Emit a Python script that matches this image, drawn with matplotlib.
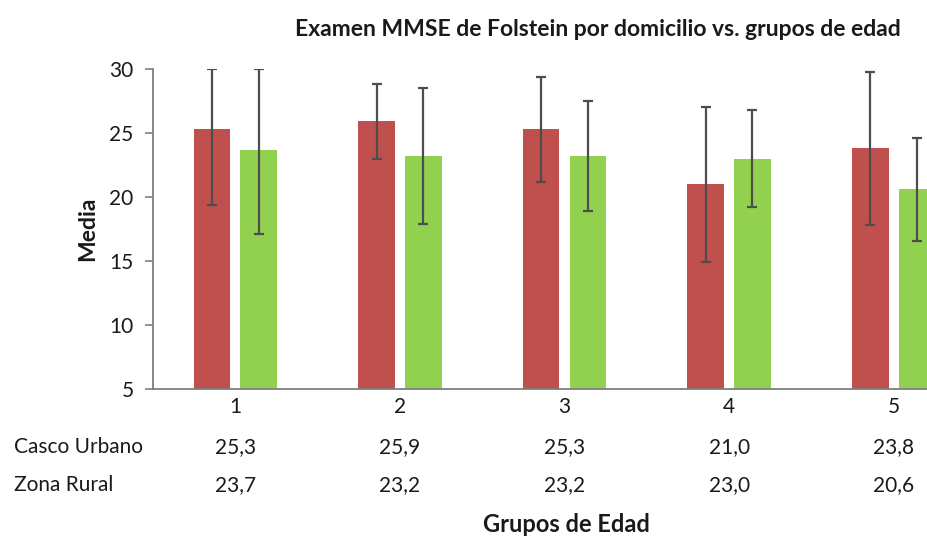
import numpy as np
import matplotlib
matplotlib.use("Agg")
import matplotlib.pyplot as plt
import matplotlib.transforms as mtransforms

plt.rcParams['font.family'] = ['Lato', 'DejaVu Sans']

# data
grupos = ["1", "2", "3", "4", "5"]
urbano = [25.3, 25.9, 25.3, 21.0, 23.8]
rural = [23.7, 23.2, 23.2, 23.0, 20.6]
# half-width of the error bars (sd)
urbano_err = [5.9, 2.9, 4.1, 6.05, 6.0]
rural_err = [6.6, 5.3, 4.3, 3.8, 4.0]
series = ["Casco Urbano", "Zona Rural"]

ymin, ymax = 5, 30
red = "#C0504D"
green = "#92D050"
errcol = "#4d4d4d"
txtcol = "#1a1a1a"

fig = plt.figure(figsize=(9.28, 5.37), dpi=100)
# the original picture is cropped on the right, so the axes run past the edge
ax = fig.add_axes([153/928, 1 - 389/537, 823/928, 320/537])

x = np.arange(len(grupos))
w = 0.223
off = 0.142


def clipped(vals, errs):
    # excel draws the cap at the axis limit when the bar goes over it
    lo = [e for e in errs]
    hi = [min(v + e, ymax) - v for v, e in zip(vals, errs)]
    return [lo, hi]


ax.bar(x - off, urbano, w, color=red, zorder=2)
ax.bar(x + off, rural, w, color=green, zorder=2)
ax.errorbar(x - off, urbano, yerr=clipped(urbano, urbano_err), fmt="none",
            ecolor=errcol, elinewidth=1.6, capsize=3.5, capthick=1.6, zorder=3)
ax.errorbar(x + off, rural, yerr=clipped(rural, rural_err), fmt="none",
            ecolor=errcol, elinewidth=1.6, capsize=3.5, capthick=1.6, zorder=3)

ax.set_xlim(-0.5, 4.5)
ax.set_ylim(ymin, ymax)
ax.set_yticks(range(5, 31, 5))
ax.set_xticks(x)
ax.set_xticklabels(grupos)
ax.tick_params(axis="x", length=0, pad=6, labelsize=15)
ax.tick_params(axis="y", length=6, width=1.2, color="#7f7f7f", direction="out",
               pad=8, labelsize=15)
for lab in ax.get_xticklabels() + ax.get_yticklabels():
    lab.set_color(txtcol)

for s in ["top", "right"]:
    ax.spines[s].set_visible(False)
for s in ["left", "bottom"]:
    ax.spines[s].set_color("#7f7f7f")
    ax.spines[s].set_linewidth(1.3)

# data table under the axis
trans = mtransforms.blended_transform_factory(ax.transData, fig.transFigure)
rows_y = [1 - 447/537, 1 - 485/537]
for vals, name, yy in zip([urbano, rural], series, rows_y):
    fig.text(14/928, yy, name, ha="left", va="center", fontsize=15, color=txtcol)
    for xi, v in zip(x, vals):
        ax.text(xi, yy, ("%.1f" % v).replace(".", ","), transform=trans,
                ha="center", va="center", fontsize=15, color=txtcol)

ax.set_ylabel("Media", fontsize=16.5, fontweight="bold", labelpad=8, color=txtcol)
fig.text(566/928, 1 - 525/537, "Grupos de Edad", ha="center", va="center",
         fontsize=17, fontweight="bold", color=txtcol)
fig.text(598/928, 1 - 30/537, "Examen MMSE de Folstein por domicilio vs. grupos de edad",
         ha="center", va="center", fontsize=16.5, fontweight="bold", color=txtcol)

fig.savefig("out.png", dpi=100)
